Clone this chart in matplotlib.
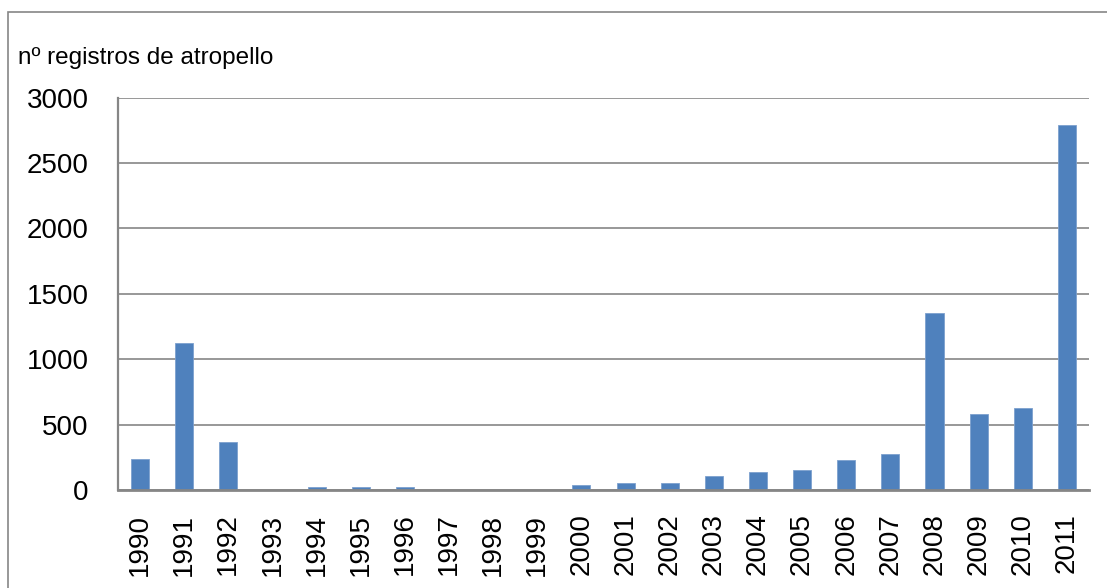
import matplotlib
matplotlib.use("Agg")
import matplotlib.pyplot as plt
from matplotlib.patches import Rectangle

years = ["1990", "1991", "1992", "1993", "1994", "1995", "1996", "1997", "1998", "1999", "2000",
         "2001", "2002", "2003", "2004", "2005", "2006", "2007", "2008", "2009", "2010", "2011"]
registros = [240, 1125, 364, 0, 25, 25, 25, 0, 0, 0, 42,
             56, 56, 104, 134, 150, 226, 272, 1357, 580, 625, 2790]
yticks = [0, 500, 1000, 1500, 2000, 2500, 3000]
ylabel_text = "nº registros de atropello"

W, H = 1107, 588
fig = plt.figure(figsize=(W / 100, H / 100), dpi=100)
plt.rcParams['font.family'] = ['Liberation Sans', 'DejaVu Sans']

# outer chart frame
fig.patches.append(Rectangle((8 / W, -0.01), 1.2, 1 - 12 / H + 0.01, transform=fig.transFigure,
                             fill=False, edgecolor='#868686', linewidth=1.2))

ax = fig.add_axes([118 / W, 1 - 490 / H, (1089 - 118) / W, (490 - 97.7) / H])
x = range(len(years))
ax.bar(x, registros, width=0.41, color='#4F81BD', edgecolor='#7DA0CE', linewidth=0.6, zorder=3)
ax.set_xlim(-0.5, len(years) - 0.5)
ax.set_ylim(0, 3000)
ax.set_yticks(yticks)
ax.set_yticklabels([str(v) for v in yticks], fontsize=20)
ax.set_xticks(list(x))
ax.set_xticklabels(years, rotation=90, fontsize=20)
ax.tick_params(axis='y', length=0, pad=21)
ax.tick_params(axis='x', length=0, pad=17)
ax.yaxis.grid(True, color='#868686', linewidth=1.2, zorder=0)
ax.set_axisbelow(True)
for s in ['top', 'right']:
    ax.spines[s].set_visible(False)
ax.spines['left'].set_color('#868686')
ax.spines['left'].set_linewidth(1.6)
ax.spines['bottom'].set_color('#868686')
ax.spines['bottom'].set_linewidth(2.0)
ax.spines['bottom'].set_zorder(4)

fig.text(18 / W, 1 - 64 / H, ylabel_text, fontsize=17.5, ha='left', va='baseline')

fig.savefig("out.png", dpi=100)
